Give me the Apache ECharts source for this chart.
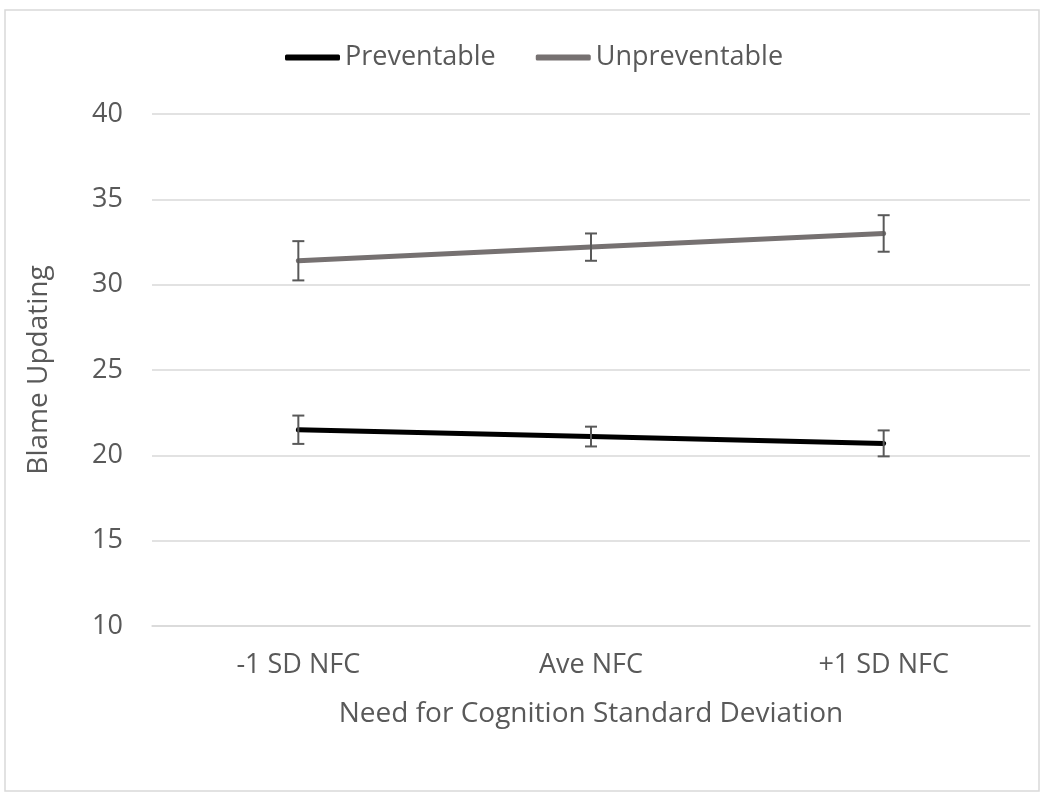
<!doctype html>
<html lang="en">
<head>
    <meta charset="UTF-8">
    <title>Blame Updating</title>
    <script src="https://cdn.jsdelivr.net/npm/echarts@6/dist/echarts.min.js"></script>
    <style>
        html, body { margin: 0; padding: 0; background: #fff; }
        #main { width: 1045px; height: 800px; }
    </style>
</head>
<body>
<div id="main"></div>
<script>
    var categories = ['-1 SD NFC', 'Ave NFC', '+1 SD NFC'];
    var preventable = [21.5, 21.1, 20.7];
    var preventableErr = [0.83, 0.58, 0.76];
    var unpreventable = [31.4, 32.2, 33.0];
    var unpreventableErr = [1.15, 0.8, 1.07];

    var fontName = 'Open Sans';
    var labelColor = '#595959';

    // error bar rows: [x index, low, high]
    function errRows(mean, err) {
        return mean.map(function (m, i) { return [i, m - err[i], m + err[i]]; });
    }

    function errorBar(params, api) {
        var lo = api.coord([api.value(0), api.value(1)]);
        var hi = api.coord([api.value(0), api.value(2)]);
        var cap = 6;
        var st = { stroke: '#595959', lineWidth: 2 };
        return {
            type: 'group',
            children: [
                { type: 'line', shape: { x1: hi[0], y1: hi[1], x2: lo[0], y2: lo[1] }, style: st },
                { type: 'line', shape: { x1: hi[0] - cap, y1: hi[1], x2: hi[0] + cap, y2: hi[1] }, style: st },
                { type: 'line', shape: { x1: lo[0] - cap, y1: lo[1], x2: lo[0] + cap, y2: lo[1] }, style: st }
            ]
        };
    }

    var myChart = echarts.init(document.getElementById('main'));

    var option = {
        backgroundColor: '#fff',
        animation: false,
        textStyle: { fontFamily: fontName },
        graphic: [{
            type: 'rect',
            shape: { x: 5, y: 10, width: 1034, height: 781 },
            style: { fill: null, stroke: '#d9d9d9', lineWidth: 1.5 },
            silent: true
        }],
        legend: {
            top: 39,
            left: 280,
            itemWidth: 55,
            itemHeight: 6,
            itemGap: 40,
            icon: 'roundRect',
            textStyle: { fontSize: 27, color: labelColor, fontFamily: fontName },
            data: ['Preventable', 'Unpreventable']
        },
        grid: { left: 152, right: 15, top: 114, bottom: 174 },
        xAxis: {
            type: 'category',
            data: categories,
            name: 'Need for Cognition Standard Deviation',
            nameLocation: 'middle',
            nameGap: 74,
            nameTextStyle: { fontSize: 28, color: labelColor },
            axisLine: { lineStyle: { color: '#d9d9d9', width: 1.5 } },
            axisTick: { show: false },
            axisLabel: { fontSize: 27, color: labelColor, margin: 26 }
        },
        yAxis: {
            type: 'value',
            min: 10,
            max: 40,
            interval: 5,
            name: 'Blame Updating',
            nameLocation: 'middle',
            nameGap: 99,
            nameTextStyle: { fontSize: 28, color: labelColor },
            axisLine: { show: false },
            axisTick: { show: false },
            axisLabel: { fontSize: 27, color: labelColor, margin: 29 },
            splitLine: { lineStyle: { color: '#d9d9d9', width: 1.5 } }
        },
        series: [
            {
                name: 'Preventable',
                type: 'line',
                data: preventable,
                showSymbol: false,
                symbol: 'none',
                color: '#000000',
                lineStyle: { width: 5, color: '#000000', cap: 'round' },
                z: 3
            },
            {
                name: 'Unpreventable',
                type: 'line',
                data: unpreventable,
                showSymbol: false,
                symbol: 'none',
                color: '#767171',
                lineStyle: { width: 5, color: '#767171', cap: 'round' },
                z: 3
            },
            {
                type: 'custom',
                renderItem: errorBar,
                data: errRows(preventable, preventableErr),
                encode: { x: 0, y: [1, 2] },
                z: 4,
                silent: true
            },
            {
                type: 'custom',
                renderItem: errorBar,
                data: errRows(unpreventable, unpreventableErr),
                encode: { x: 0, y: [1, 2] },
                z: 4,
                silent: true
            }
        ]
    };

    myChart.setOption(option);
</script>
</body>
</html>
